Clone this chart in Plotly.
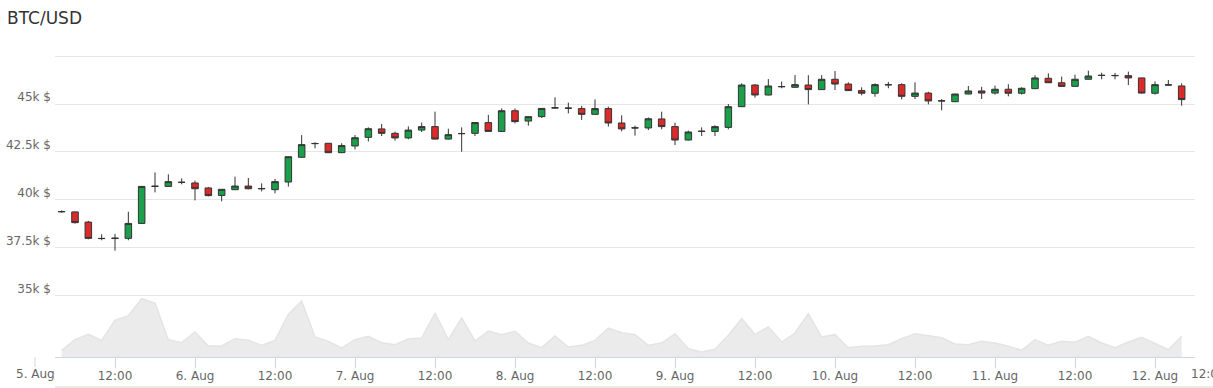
import plotly.graph_objects as go
import pandas as pd

# ---------------- data ----------------
times = pd.date_range("2021-08-05 04:00", periods=85, freq="2h")

opens = [39390, 39370, 38840, 37990, 37980, 37990, 38770, 40700, 40700, 40920,
         40880, 40620, 40230, 40530, 40720, 40590, 40530, 40930, 42220, 42930,
         42950, 42460, 42810, 43260, 43700, 43470, 43230, 43640, 43820, 43170,
         43450, 43470, 44030, 43570, 44650, 44110, 44340, 44790, 44790, 44760,
         44460, 44760, 44010, 43760, 43750, 44220, 43820, 43120, 43570, 43570,
         43780, 44860, 45990, 45470, 45900, 45870, 45990, 45750, 46290, 46040,
         45700, 45560, 46010, 46010, 45400, 45570, 45170, 45120, 45520, 45680,
         45570, 45770, 45560, 45800, 46340, 46110, 45920, 46290, 46500, 46490,
         46480, 46360, 45560, 46000, 45940]
highs = [39450, 39390, 38900, 38200, 38220, 39380, 40710, 41430, 41330, 41120,
         41000, 40670, 40560, 41210, 41140, 40860, 41090, 42270, 43380, 43000,
         42970, 42950, 43380, 43780, 43960, 43560, 43830, 44030, 44600, 43710,
         43780, 44040, 44430, 44770, 44770, 44350, 44790, 45350, 45070, 44900,
         45240, 44860, 44410, 43870, 44300, 44600, 44030, 43610, 43780, 43890,
         45000, 46080, 46040, 46300, 46170, 46510, 46500, 46510, 46720, 46130,
         45870, 46080, 46150, 46080, 46130, 45640, 45260, 45540, 45940, 45900,
         45960, 46030, 45870, 46500, 46600, 46430, 46530, 46740, 46630, 46620,
         46690, 46370, 46180, 46250, 46080]
lows = [39330, 38760, 37940, 37890, 37350, 37890, 38760, 40390, 40690, 40810,
        39970, 40180, 39920, 40510, 40550, 40440, 40340, 40690, 42200, 42690,
        42440, 42440, 42630, 43050, 43330, 43090, 43160, 43540, 43150, 43150,
        42510, 43330, 43560, 43560, 43990, 43870, 44270, 44780, 44510, 44170,
        44440, 43820, 43570, 43350, 43640, 43680, 42860, 43100, 43330, 43330,
        43680, 44840, 45330, 45450, 45820, 45850, 44980, 45730, 45730, 45680,
        45450, 45380, 45820, 45240, 45260, 44980, 44670, 45100, 45500, 45260,
        45490, 45400, 45490, 45780, 46090, 45900, 45900, 46270, 46290, 46290,
        45990, 45540, 45490, 45980, 44910]
closes = [39380, 38810, 37990, 37980, 38000, 38770, 40700, 40710, 40950, 40910,
          40580, 40220, 40550, 40720, 40580, 40580, 40950, 42250, 42880, 42940,
          42460, 42830, 43240, 43710, 43470, 43230, 43640, 43820, 43170, 43400,
          43460, 44030, 43570, 44650, 44080, 44340, 44770, 44800, 44780, 44460,
          44760, 44010, 43700, 43750, 44230, 43820, 43120, 43540, 43580, 43820,
          44860, 45990, 45470, 45940, 45910, 46010, 45750, 46290, 46040, 45700,
          45560, 46010, 46000, 45400, 45570, 45160, 45160, 45520, 45680, 45570,
          45770, 45560, 45820, 46360, 46110, 45920, 46290, 46460, 46490, 46480,
          46360, 45570, 46010, 45990, 45230]
volume = [80, 208, 272, 200, 440, 496, 700, 648, 208, 172,
          300, 132, 132, 220, 200, 140, 200, 512, 672, 240,
          188, 108, 208, 248, 172, 148, 216, 228, 528, 208,
          468, 192, 312, 268, 308, 168, 112, 252, 120, 140,
          200, 348, 292, 268, 140, 168, 280, 100, 60, 92,
          260, 460, 272, 360, 180, 288, 520, 240, 268, 112,
          128, 132, 148, 220, 280, 252, 232, 156, 148, 188,
          168, 128, 80, 208, 140, 188, 176, 248, 168, 112,
          180, 236, 160, 88, 248]

tick_times = pd.date_range("2021-08-05 12:00", "2021-08-12 00:00", freq="12h")
tick_text = ["12:00" if t.hour == 12 else f"{t.day}. Aug" for t in tick_times]
price_ticks = [35000, 37500, 40000, 42500, 45000, 47500]
price_labels = ["35k $", "37.5k $", "40k $", "42.5k $", "45k $", ""]

# ---------------- layout constants ----------------
W, H = 1213, 388
ML, MR, MT, MB = 55, 18, 50, 31
PW, PH = W - ML - MR, H - MT - MB
FONT = '"Lucida Grande", "Lucida Sans Unicode", Verdana, "DejaVu Sans", sans-serif'
AX = "#ccd6eb"
FS = 12


def px_x(p):
    return (p - ML) / PW


def px_y(p):
    return (H - MB - p) / PH


fig = go.Figure()

fig.add_trace(go.Scatter(
    x=times, y=volume, yaxis="y2", mode="lines",
    line=dict(color="#e4e4e4", width=1.5), fill="tozeroy",
    fillcolor="#ebebeb", hoverinfo="skip", showlegend=False,
))

fig.add_trace(go.Candlestick(
    x=times, open=opens, high=highs, low=lows, close=closes,
    increasing=dict(fillcolor="#1a9f4a", line=dict(color="#333333", width=1)),
    decreasing=dict(fillcolor="#dc2a2a", line=dict(color="#333333", width=1)),
    whiskerwidth=0, showlegend=False,
))

fig.update_layout(
    template="none",
    width=W, height=H, autosize=False,
    margin=dict(l=ML, r=MR, t=MT, b=MB, pad=0, autoexpand=False),
    paper_bgcolor="white", plot_bgcolor="white",
    font=dict(family=FONT, size=FS, color="#666666"),
    title=dict(text="BTC/USD", font=dict(size=17, color="#333333", family='"DejaVu Sans", sans-serif'),
               xref="container", yref="container", x=7 / W, xanchor="left",
               y=1 - 18 / H, yanchor="middle", automargin=False),
    xaxis=dict(
        type="date", range=["2021-08-05 03:00", "2021-08-12 06:00"],
        rangeslider=dict(visible=False), automargin=False,
        tickvals=tick_times, ticktext=tick_text,
        ticks="outside", ticklen=10, tickcolor=AX, tickwidth=1,
        ticklabelstandoff=-2,
        showline=True, linecolor=AX, linewidth=1, mirror=False,
        showgrid=False, zeroline=False,
        tickfont=dict(size=FS, color="#666666"),
    ),
    yaxis=dict(
        range=[31801, 47817], automargin=False,
        tickvals=price_ticks, ticktext=price_labels,
        showgrid=True, gridcolor="#e6e6e6", gridwidth=1,
        zeroline=False, ticks="", showline=False,
        ticklabelshift=-7, ticklabelstandoff=3,
        tickfont=dict(size=FS, color="#666666"),
    ),
    yaxis2=dict(overlaying="y", range=[0, 3684], visible=False,
                showgrid=False, zeroline=False, automargin=False),
    showlegend=False,
    annotations=[
        dict(text="5. Aug", xref="paper", yref="paper", x=px_x(35), y=px_y(374),
             xanchor="center", yanchor="middle", showarrow=False,
             font=dict(size=FS, color="#666666")),
        dict(text="12:00", xref="paper", yref="paper", x=px_x(1189), y=px_y(374),
             xanchor="left", yanchor="middle", showarrow=False,
             font=dict(size=FS, color="#666666")),
    ],
    shapes=[
        dict(type="line", xref="paper", yref="paper", x0=px_x(35), x1=px_x(35),
             y0=px_y(357), y1=px_y(367), line=dict(color=AX, width=1)),
        dict(type="line", xref="paper", yref="paper", x0=0, x1=px_x(W),
             y0=px_y(387), y1=px_y(387), line=dict(color="#d8d2c4", width=1)),
    ],
)

fig.write_html(
    "out.html",
    config={"displayModeBar": False},
    post_script="document.body.style.margin='0';document.body.style.overflow='hidden';",
)
